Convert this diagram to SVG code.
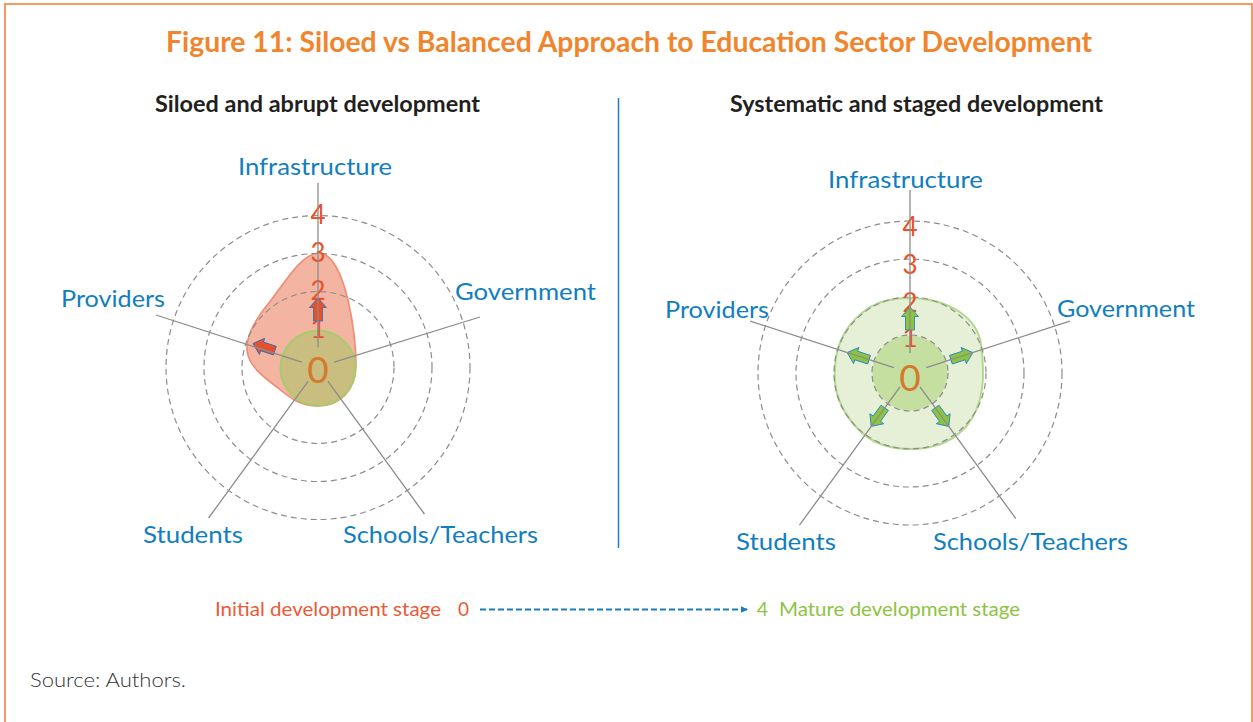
<svg xmlns="http://www.w3.org/2000/svg" width="1253" height="722" viewBox="0 0 1253 722">
<style>
.t{font-family:Lato,"Open Sans","Liberation Sans",sans-serif}
.title{font-size:28px;font-weight:700;fill:#f0852d}
.sub{font-size:22px;font-weight:700;fill:#231f20}
.ax{font-size:24px;fill:#117ec0}
.rl{font-size:26px;fill:#eb5026;text-anchor:middle}
.zero{font-size:37px;fill:#d47a2c;text-anchor:middle}
.ring{fill:none;stroke:#8c8c8c;stroke-width:1.2;stroke-dasharray:6 4}
.axis{stroke:#8c8c8c;stroke-width:1.3;fill:none}
.ra{fill:#e8502c;stroke:#2f70b4;stroke-width:0.9}
.ga{fill:#8cc43f;stroke:#2a86c3;stroke-width:0.9}
.leg{font-size:19px}
</style>
<defs>
<path id="blk" d="M0,0 L8.5,9.5 L4.5,9.5 L4.5,23 L-4.5,23 L-4.5,9.5 L-8.5,9.5 Z"/>
<marker id="lh" markerWidth="8" markerHeight="8" refX="6" refY="4" orient="auto" markerUnits="userSpaceOnUse">
<path d="M0,0.8 L7,4 L0,7.2 Z" fill="#1a7dc0"/>
</marker>
</defs>
<rect width="1253" height="722" fill="#ffffff"/>
<path d="M5,722 V4 H1252 V722" fill="none" stroke="#f39a5e" stroke-width="2"/>

<g id="title">
<text class="t title" x="166" y="52" textLength="926" lengthAdjust="spacingAndGlyphs">Figure 11: Siloed vs Balanced Approach to Education Sector Development</text>
</g>

<g id="subtitles">
<text class="t sub" x="155" y="112" textLength="325" lengthAdjust="spacingAndGlyphs">Siloed and abrupt development</text>
<text class="t sub" x="730" y="112" textLength="373" lengthAdjust="spacingAndGlyphs">Systematic and staged development</text>
</g>

<g id="divider">
<line x1="618.5" y1="98" x2="618.5" y2="548" stroke="#1a80c4" stroke-width="1.5"/>
</g>

<!-- LEFT CHART -->
<g id="left-chart">
<path d="M318,253 C332,252 342,275 348,300 C353,322 356,345 356,365 C356,390 340,406 318,406 C300,406 290,398 278,388 C262,376 248,365 247,350 C246,335 255,320 268,304 C285,283 300,255 318,253 Z" fill="#f4b4a2" stroke="#ef8c73" stroke-width="1.6"/>
<circle class="ring" cx="318" cy="367.5" r="76"/>
<circle class="ring" cx="318" cy="367.5" r="114"/>
<circle class="ring" cx="318" cy="367.5" r="152"/>
<circle cx="318" cy="368" r="37.5" fill="#c9bd80" stroke="#a8cc6c" stroke-width="2"/>
<text class="t rl" x="318" y="224">4</text>
<text class="t rl" x="318" y="262">3</text>
<text class="t rl" x="318" y="300">2</text>
<text class="t rl" x="318" y="338">1</text>
<text class="t zero" x="318" y="383">0</text>
<use href="#blk" class="ra" transform="translate(318,298)"/>
<use href="#blk" class="ra" transform="translate(253,343.5) rotate(-72)"/>
</g>

<!-- RIGHT CHART -->
<g id="right-chart">
<path d="M910,298 C950,299 978,318 981,345 C985,375 985,405 965,428 C948,445 930,449 910,449 C885,449 868,440 857,428 C840,410 833,390 835,368 C836,340 850,320 870,307 C882,300 895,298 910,298 Z" fill="#e5f0d7" stroke="#b3d98e" stroke-width="2"/>
<circle cx="910" cy="373" r="37.5" fill="#c4df9f"/>
<circle class="ring" cx="910" cy="373" r="38"/>
<circle class="ring" cx="910" cy="373" r="76"/>
<circle class="ring" cx="910" cy="373" r="114"/>
<circle class="ring" cx="910" cy="373" r="152"/>
<text class="t rl" x="910" y="236">4</text>
<text class="t rl" x="910" y="274">3</text>
<text class="t rl" x="910" y="312">2</text>
<text class="t rl" x="910" y="347">1</text>
<text class="t zero" x="910" y="391">0</text>
<use href="#blk" class="ga" transform="translate(910,307)"/>
<use href="#blk" class="ga" transform="translate(972.8,352.6) rotate(72)"/>
<use href="#blk" class="ga" transform="translate(847.2,352.6) rotate(-72)"/>
<use href="#blk" class="ga" transform="translate(948.8,426.4) rotate(144)"/>
<use href="#blk" class="ga" transform="translate(871.2,426.4) rotate(-144)"/>
</g>

<g id="connectors">
<line class="axis" x1="318" y1="347.5" x2="318" y2="183"/>
<line class="axis" x1="334.2" y1="362.2" x2="480" y2="317"/>
<line class="axis" x1="301.8" y1="362.2" x2="156" y2="315"/>
<line class="axis" x1="308" y1="381.3" x2="208.6" y2="518"/>
<line class="axis" x1="328" y1="381.3" x2="424.4" y2="514"/>
<line class="axis" x1="910" y1="353" x2="910" y2="190"/>
<line class="axis" x1="926.2" y1="367.7" x2="1069.8" y2="321.1"/>
<line class="axis" x1="893.8" y1="367.7" x2="750.2" y2="321.1"/>
<line class="axis" x1="900" y1="386.8" x2="799.5" y2="525.1"/>
<line class="axis" x1="920" y1="386.8" x2="1015.8" y2="518.6"/>
</g>

<g id="left-labels">
<text class="t ax" x="238" y="175" textLength="154" lengthAdjust="spacingAndGlyphs">Infrastructure</text>
<text class="t ax" x="455" y="300" textLength="141" lengthAdjust="spacingAndGlyphs">Government</text>
<text class="t ax" x="61" y="307" textLength="104" lengthAdjust="spacingAndGlyphs">Providers</text>
<text class="t ax" x="143" y="543" textLength="100" lengthAdjust="spacingAndGlyphs">Students</text>
<text class="t ax" x="343" y="543" textLength="195" lengthAdjust="spacingAndGlyphs">Schools/Teachers</text>
</g>

<g id="right-labels">
<text class="t ax" x="828" y="188" textLength="155" lengthAdjust="spacingAndGlyphs">Infrastructure</text>
<text class="t ax" x="1057" y="317" textLength="138" lengthAdjust="spacingAndGlyphs">Government</text>
<text class="t ax" x="665" y="318" textLength="104" lengthAdjust="spacingAndGlyphs">Providers</text>
<text class="t ax" x="736" y="550" textLength="100" lengthAdjust="spacingAndGlyphs">Students</text>
<text class="t ax" x="933" y="550" textLength="195" lengthAdjust="spacingAndGlyphs">Schools/Teachers</text>
</g>

<g id="legend">
<text class="t leg" x="215" y="616" fill="#ea5a36" textLength="226" lengthAdjust="spacingAndGlyphs">Initial development stage</text>
<text class="t leg" x="458" y="616" fill="#ea5a36">0</text>
<line x1="480" y1="609.5" x2="747" y2="609.5" stroke="#1a7dc0" stroke-width="2.2" stroke-dasharray="6 3" marker-end="url(#lh)"/>
<text class="t leg" x="757" y="616" fill="#8cc43f">4</text>
<text class="t leg" x="779" y="616" fill="#8cc43f" textLength="241" lengthAdjust="spacingAndGlyphs">Mature development stage</text>
</g>

<g id="source">
<text class="t" x="30" y="687" font-size="20" font-weight="300" fill="#333333" textLength="156" lengthAdjust="spacingAndGlyphs">Source: Authors.</text>
</g>
</svg>
